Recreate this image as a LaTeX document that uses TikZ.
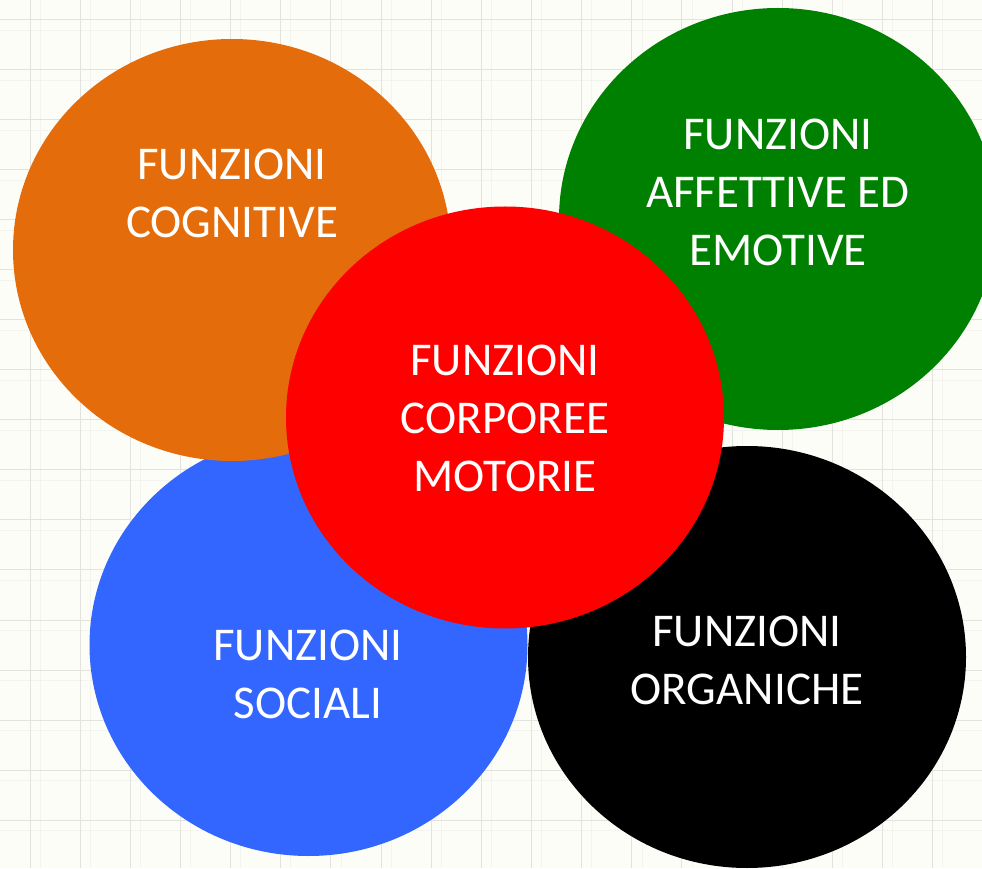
\documentclass[tikz,border=0pt]{standalone}
\usepackage{fontspec}
\setmainfont{Carlito}
\definecolor{bgc}{HTML}{FDFDF8}
\definecolor{gridc}{HTML}{E2E2DE}
\definecolor{gridf}{HTML}{F3F3EF}
\definecolor{corange}{HTML}{E46C0A}
\definecolor{cgreen}{HTML}{008000}
\definecolor{cblue}{HTML}{3366FF}
\definecolor{cred}{HTML}{FF0000}
\tikzset{
  blob/.style={ellipse, minimum width=438pt, minimum height=422pt, inner sep=0pt, draw=none},
  lbl/.style={text=white, align=center, inner sep=0pt, font=\fontsize{47}{58}\selectfont}
}
\usetikzlibrary{shapes.geometric}
\begin{document}
\begin{tikzpicture}[x=1pt,y=1pt]
\fill[bgc] (0,0) rectangle (982,868);
\useasboundingbox (0,0) rectangle (982,868);
% faint secondary grid
\foreach \i in {0,...,19} {
  \draw[gridf, line width=0.6pt] ({40+50.15*\i},0) -- ({40+50.15*\i},868);
}
\foreach \j in {0,...,17} {
  \draw[gridf, line width=0.6pt] (0,{868-30-50*\j}) -- (982,{868-30-50*\j});
}
% main grid
\foreach \i in {0,...,19} {
  \draw[gridc, line width=1pt] ({30+50.15*\i},0) -- ({30+50.15*\i},868);
}
\foreach \j in {0,...,17} {
  \draw[gridc, line width=1pt] (0,{868-20-50*\j}) -- (982,{868-20-50*\j});
}
% circles
\node[blob, fill=cblue]   (blue)   at (308.5,{868-645}) {};
\node[blob, fill=corange] (orange) at (232,{868-250}) {};
\node[blob, fill=black]   (black)  at (747,{868-657}) {};
\node[blob, fill=cgreen]  (green)  at (778,{868-219}) {};
\node[blob, fill=cred]    (red)    at (505,{868-417.5}) {};
% labels
\node[lbl] (torange) at (232,{868-193.5}) {FUNZIONI\\COGNITIVE};
\node[lbl] (tgreen)  at (778,{868-192.5}) {FUNZIONI\\AFFETTIVE ED\\EMOTIVE};
\node[lbl] (tred)    at (505,{868-418}) {FUNZIONI\\CORPOREE\\MOTORIE};
\node[lbl] (tblue)   at (308,{868-674.5}) {FUNZIONI\\SOCIALI};
\node[lbl] (tblack)  at (747,{868-660.5}) {FUNZIONI\\ORGANICHE};
\end{tikzpicture}
\end{document}
